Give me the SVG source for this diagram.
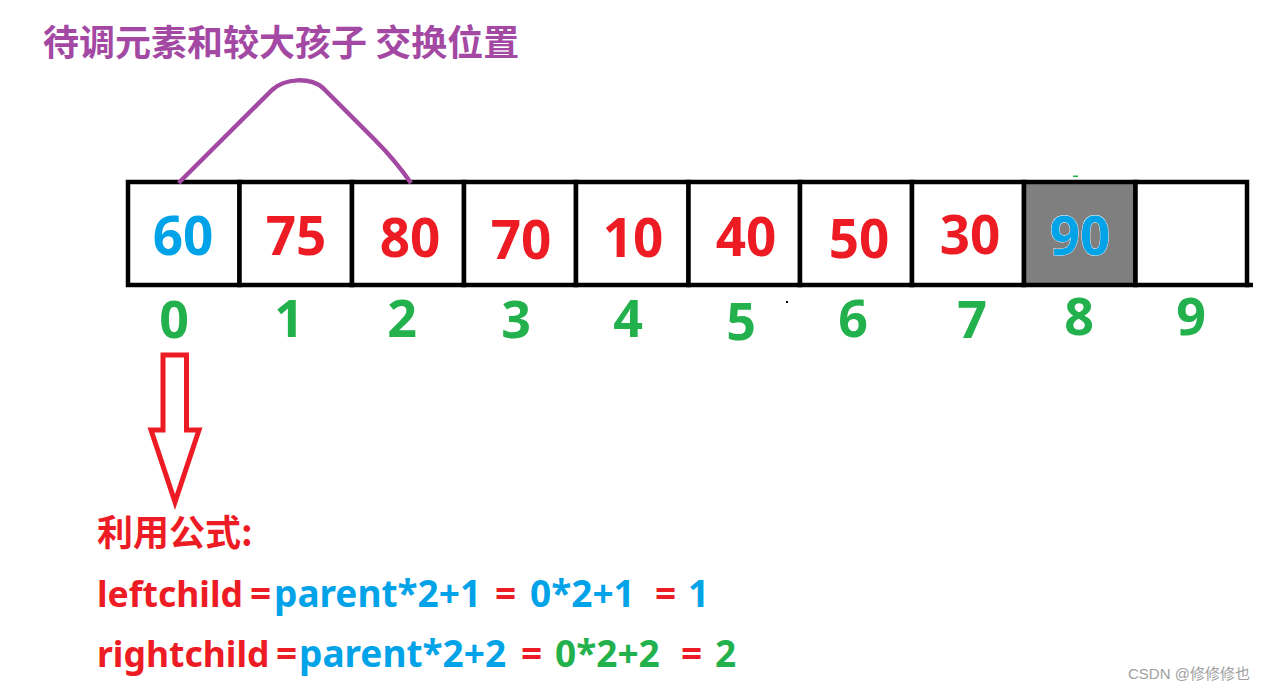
<svg xmlns="http://www.w3.org/2000/svg" width="1279" height="692" viewBox="0 0 1279 692">
<style>
.cell{fill:#fff;stroke:#000;stroke-width:4.5}
.val{font-family:"Noto Sans","Open Sans",sans-serif;font-weight:bold;font-size:53px;text-anchor:middle}
.idx{font-family:"Noto Sans","Open Sans",sans-serif;font-weight:bold;font-size:52px;text-anchor:middle;fill:#22B14C}
.red{fill:#ED1C24}.blue{fill:#00A2E8}.green{fill:#22B14C}
.f{font-family:"Noto Sans","Open Sans",sans-serif;font-weight:bold;font-size:37px}
.w{font-size:35.5px}
.cjk{font-family:"Noto Sans CJK SC",sans-serif;font-weight:bold}
</style>
<rect width="1279" height="692" fill="#fff"/>
<g id="title"><text class="cjk" x="43" y="56" font-size="36" fill="#A349A4">待调元素和较大孩子 交换位置</text></g>
<g id="cell0"><rect class="cell" x="128" y="182" width="111.5" height="103"/><text class="val blue" x="183" y="255">60</text></g>
<g id="cell1"><rect class="cell" x="239.5" y="182" width="112.5" height="103"/><text class="val red" x="296" y="255">75</text></g>
<g id="cell2"><rect class="cell" x="352" y="182" width="112" height="103"/><text class="val red" x="410" y="257">80</text></g>
<g id="cell3"><rect class="cell" x="464" y="182" width="112" height="103"/><text class="val red" x="521" y="259">70</text></g>
<g id="cell4"><rect class="cell" x="576" y="182" width="112.5" height="103"/><text class="val red" x="633" y="257">10</text></g>
<g id="cell5"><rect class="cell" x="688.5" y="182" width="111.5" height="103"/><text class="val red" x="746" y="256">40</text></g>
<g id="cell6"><rect class="cell" x="800" y="182" width="112" height="103"/><text class="val red" x="859" y="258">50</text></g>
<g id="cell7"><rect class="cell" x="912" y="182" width="112" height="103"/><text class="val red" x="970" y="254">30</text></g>
<g id="cell8"><rect class="cell" x="1024" y="182" width="111.5" height="103" style="fill:#7F7F7F"/><text class="val blue" x="1080" y="255" stroke="#fff" stroke-width="0.8" paint-order="stroke">90</text></g>
<g id="cell9"><rect class="cell" x="1135.5" y="182" width="111.5" height="103"/><line x1="1245" y1="285" x2="1253" y2="285" stroke="#000" stroke-width="4.5"/></g>
<g id="indices">
<text class="idx" x="174" y="338">0</text>
<text class="idx" x="289" y="337">1</text>
<text class="idx" x="402" y="337">2</text>
<text class="idx" x="516" y="338">3</text>
<text class="idx" x="628" y="337">4</text>
<text class="idx" x="741" y="340">5</text>
<text class="idx" x="853" y="337">6</text>
<text class="idx" x="972" y="338">7</text>
<text class="idx" x="1079" y="335">8</text>
<text class="idx" x="1191" y="335">9</text>
</g>
<g id="connectors">
<path d="M178.6,183 L272,90 C285,78 310,77 323,88 L375,140 Q395,160 411,183" fill="none" stroke="#A349A4" stroke-width="4.5" stroke-linejoin="round"/>
<polygon points="163,355 186.5,355 186.5,430 199,430 175,502 151,430 163,430" fill="none" stroke="#ED1C24" stroke-width="5" stroke-linejoin="miter"/>
</g>
<g id="formula">
<text class="cjk red" x="97" y="546" font-size="36">利用公式:</text>
<text class="f" y="607"><tspan class="red w" x="97">leftchild</tspan><tspan class="red" x="250">=</tspan><tspan class="blue" x="274">parent*2+1</tspan><tspan class="red" x="495">=</tspan><tspan class="blue" x="530">0*2+1</tspan><tspan class="red" x="655">=</tspan><tspan class="blue" x="688">1</tspan></text>
<text class="f" y="667"><tspan class="red w" x="97">rightchild</tspan><tspan class="red" x="276">=</tspan><tspan class="blue" x="299">parent*2+2</tspan><tspan class="red" x="521">=</tspan><tspan class="green" x="555">0*2+2</tspan><tspan class="red" x="681">=</tspan><tspan class="green" x="715">2</tspan></text>
</g>
<g id="watermark"><text x="1128" y="679" font-family="'Liberation Sans','Noto Sans CJK SC',sans-serif" font-size="15" fill="#A0A0A0">CSDN @修修修也</text></g>
<rect x="1073" y="175.5" width="5" height="1.5" fill="#22B14C"/>
<rect x="786" y="301" width="2" height="2" fill="#000"/>
</svg>
